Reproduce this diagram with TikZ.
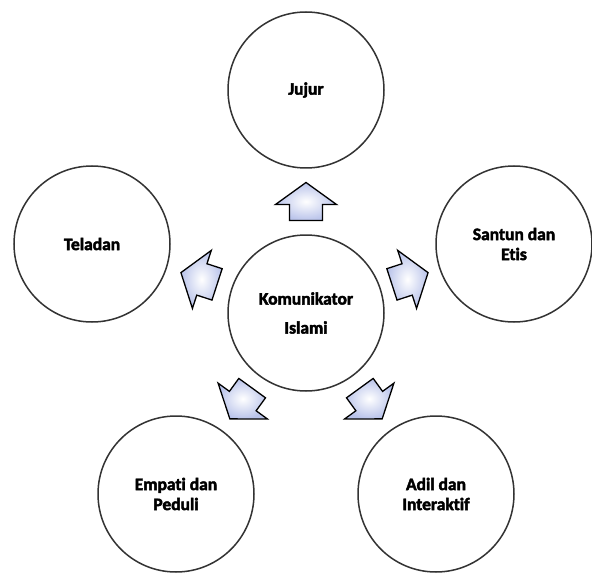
\documentclass[tikz,border=0pt]{standalone}
\usepackage{fontspec}
\setmainfont[Ligatures=NoCommon, BoldFeatures={FakeBold=2.5}]{Carlito}
\usetikzlibrary{calc}
\definecolor{ringc}{HTML}{333333}
\definecolor{arrowfill}{HTML}{B9C3EA}
\tikzset{
  ring/.style={circle, draw=ringc, line width=1.5pt, minimum size=156pt, inner sep=0pt,
    align=center, font=\fontsize{17.5}{20}\selectfont\bfseries},
  blockarrow/.style={draw=black, line width=1.3pt, line join=miter,
    inner color=white, outer color=arrowfill}
}
\begin{document}
\begin{tikzpicture}[x=1pt,y=-1pt]
\useasboundingbox (0,0) rectangle (592,575);
\node[ring] (c) at (306,313) {Komunikator\\[9pt]Islami};
\node[ring] (j) at (306,90) {Jujur};
\node[ring] (t) at (92,244) {Teladan};
\node[ring] (s) at (514,244) {Santun dan\\Etis};
\node[ring] (e) at (176,494) {Empati dan\\Peduli};
\node[ring] (a) at (436,494) {Adil dan\\Interaktif};
\foreach \n/\r in {j/0, t/72, s/-72, e/144, a/-144}{
  \coordinate (m\n) at ($(c)!0.5!(\n)$);
  \draw[blockarrow, shift={(m\n)}, rotate=\r]
    (0,-19) -- (30.5,3) -- (16.5,3) -- (16.5,19) -- (-16.5,19) -- (-16.5,3) -- (-30.5,3) -- cycle;
}
\end{tikzpicture}
\end{document}
